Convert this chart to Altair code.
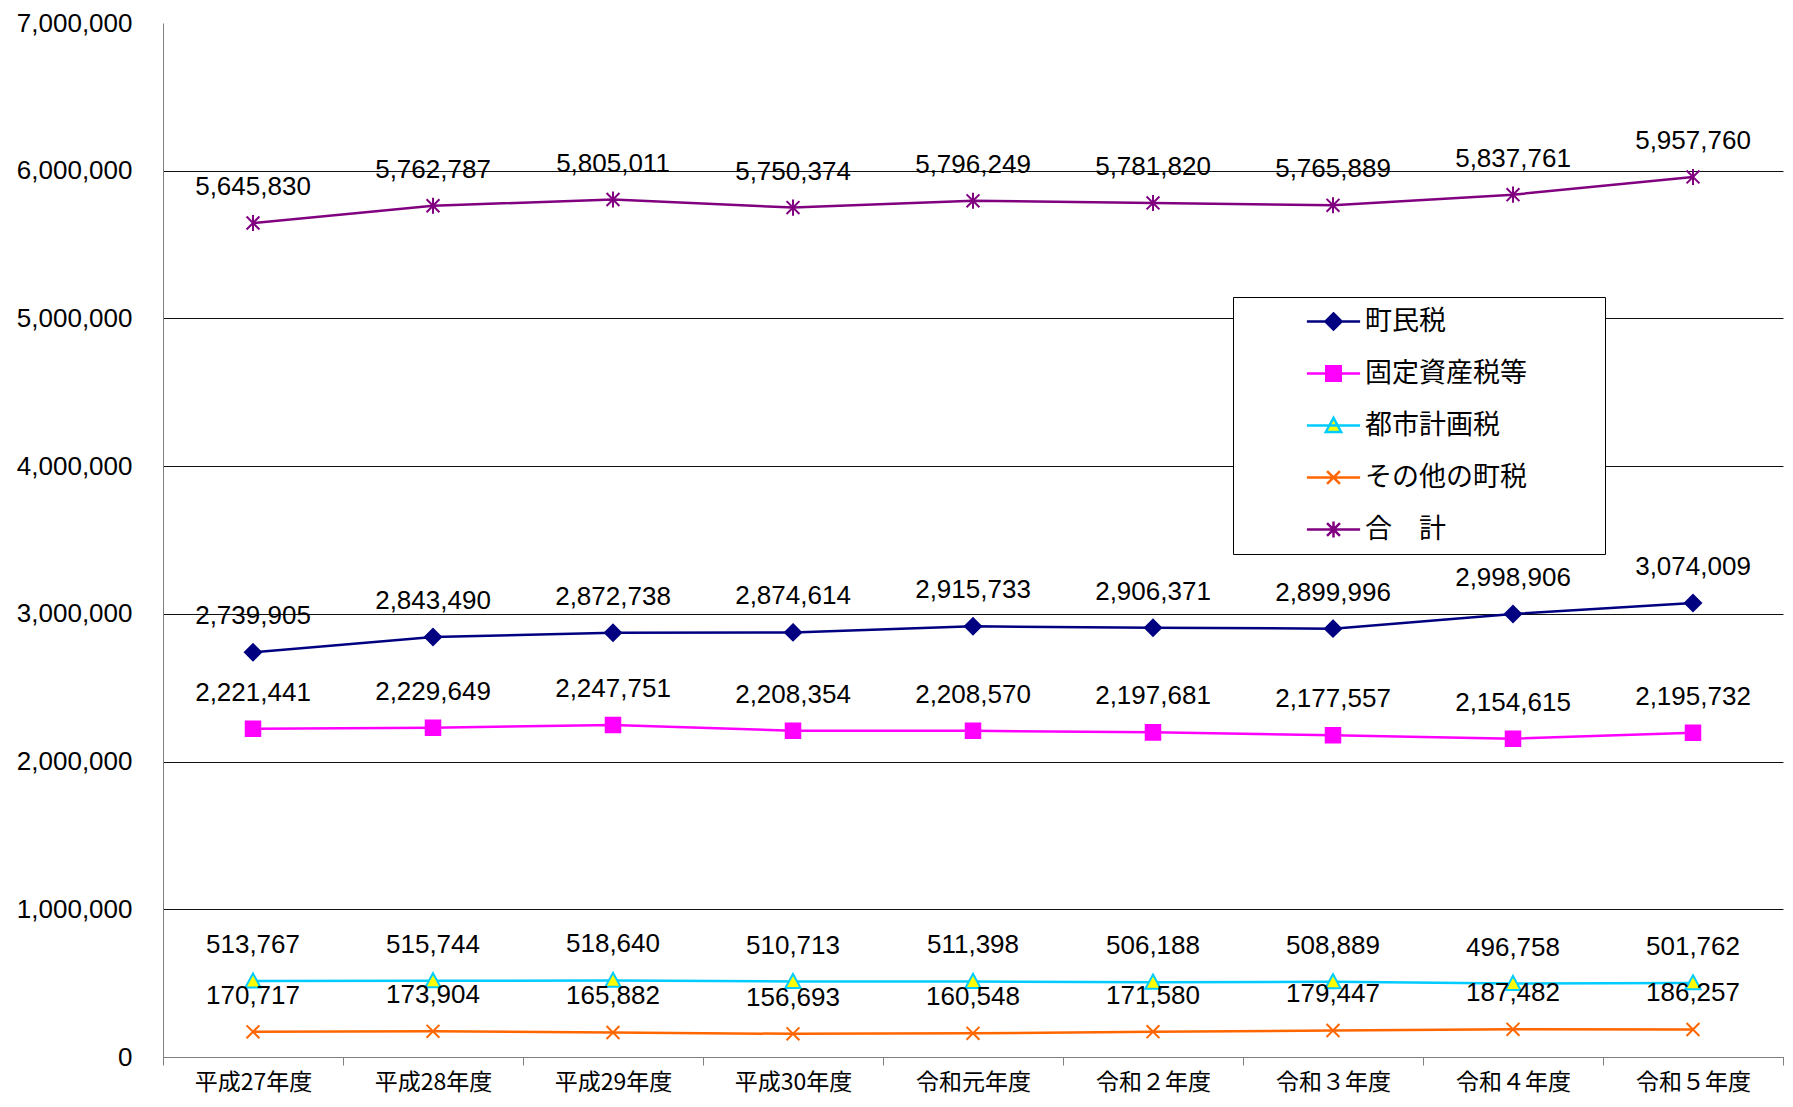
import altair as alt
import pandas as pd

years = ["平成27年度", "平成28年度", "平成29年度", "平成30年度", "令和元年度",
         "令和２年度", "令和３年度", "令和４年度", "令和５年度"]
series_names = ["町民税", "固定資産税等", "都市計画税", "その他の町税", "合　計"]

choumin = [2739905, 2843490, 2872738, 2874614, 2915733, 2906371, 2899996, 2998906, 3074009]
kotei = [2221441, 2229649, 2247751, 2208354, 2208570, 2197681, 2177557, 2154615, 2195732]
toshi = [513767, 515744, 518640, 510713, 511398, 506188, 508889, 496758, 501762]
sonota = [170717, 173904, 165882, 156693, 160548, 171580, 179447, 187482, 186257]
goukei = [5645830, 5762787, 5805011, 5750374, 5796249, 5781820, 5765889, 5837761, 5957760]

y_ticks = [0, 1000000, 2000000, 3000000, 4000000, 5000000, 6000000, 7000000]

stroke_colors = ["#000080", "#FF00FF", "#00CCFF", "#FF6600", "#800080"]
fill_colors = ["#000080", "#FF00FF", "#FFFF00", "#FF6600", "#800080"]

marker_paths = [
    "M0,-1L1,0L0,1L-1,0Z",
    "M-0.9,-0.9L0.9,-0.9L0.9,0.9L-0.9,0.9Z",
    "M0,-0.95L0.95,0.8L-0.95,0.8Z",
    "M-0.8,-0.8L0.8,0.8M-0.8,0.8L0.8,-0.8",
    "M-0.8,-0.8L0.8,0.8M-0.8,0.8L0.8,-0.8M0,-1L0,1",
]
legend_line = "M-3.3,0L3.3,0"
legend_paths = [legend_line + p for p in marker_paths]

rows = []
for name, vals in zip(series_names, [choumin, kotei, toshi, sonota, goukei]):
    for yr, v in zip(years, vals):
        rows.append({"year": yr, "series": name, "value": v})
df = pd.DataFrame(rows)

x_enc = alt.X(
    "year:N",
    sort=years,
    scale=alt.Scale(type="band", domain=years, paddingInner=0, paddingOuter=0),
    bandPosition=0.5,
    axis=alt.Axis(
        title=None, labelAngle=0, tickBand="extent", grid=False,
        labelFont="Noto Sans CJK JP", labelFontSize=23, labelColor="#000",
        domainColor="#808080", tickColor="#808080", tickSize=8, labelPadding=6,
    ),
)
y_enc = alt.Y(
    "value:Q",
    scale=alt.Scale(domain=[0, 7000000], nice=False),
    axis=alt.Axis(
        title=None, values=y_ticks, format=",d", ticks=False,
        labelFont="Liberation Sans", labelFontSize=26, labelColor="#000", labelPadding=31,
        domainColor="#808080", grid=True, gridColor="#111", gridWidth=1,
        gridOpacity={"condition": {"test": "datum.value >= 7000000", "value": 0}, "value": 1},
    ),
)

base = alt.Chart(df)

lines = base.mark_line(strokeWidth=2.5).encode(
    x=x_enc, y=y_enc,
    stroke=alt.Stroke("series:N", scale=alt.Scale(domain=series_names, range=stroke_colors), legend=None),
    detail="series:N",
)

markers = base.mark_point(size=260, strokeWidth=2, opacity=1).encode(
    x=x_enc, y=y_enc,
    shape=alt.Shape("series:N", scale=alt.Scale(domain=series_names, range=marker_paths), legend=None),
    fill=alt.Fill("series:N", scale=alt.Scale(domain=series_names, range=fill_colors), legend=None),
    stroke=alt.Stroke("series:N", scale=alt.Scale(domain=series_names, range=stroke_colors), legend=None),
)

labels = base.mark_text(dy=-36, font="Liberation Sans", fontSize=26, color="#000").encode(
    x=x_enc, y=y_enc,
    text=alt.Text("value:Q", format=",d"),
)

leg = alt.Legend(
    title=None, orient="none", legendX=1070, legendY=274,
    strokeColor="#000", fillColor="#fff", padding=11,
    labelFont="Noto Sans CJK JP", labelFontSize=27, labelColor="#000", labelLimit=500,
    symbolSize=260, symbolStrokeWidth=2.5, rowPadding=24,
    symbolOffset=76, labelOffset=18,
    labelExpr="datum.label + '\u3000\u2800\u2800'",
)

legend_layer = base.transform_filter("datum.value < 0").mark_point(size=260, strokeWidth=2.5, opacity=1).encode(
    x=x_enc, y=y_enc,
    shape=alt.Shape("series:N", scale=alt.Scale(domain=series_names, range=legend_paths), legend=leg),
    fill=alt.Fill("series:N", scale=alt.Scale(domain=series_names, range=fill_colors), legend=leg),
    stroke=alt.Stroke("series:N", scale=alt.Scale(domain=series_names, range=stroke_colors), legend=leg),
)

chart = alt.layer(lines, markers, labels, legend_layer).resolve_scale(
    shape="independent", fill="independent", stroke="independent"
).properties(
    width=1620, height=1034,
    padding={"left": 8, "top": 2, "right": 0, "bottom": 4},
).configure_view(strokeWidth=0)

chart.save("out.html", embed_options={"renderer": "svg", "actions": False})
